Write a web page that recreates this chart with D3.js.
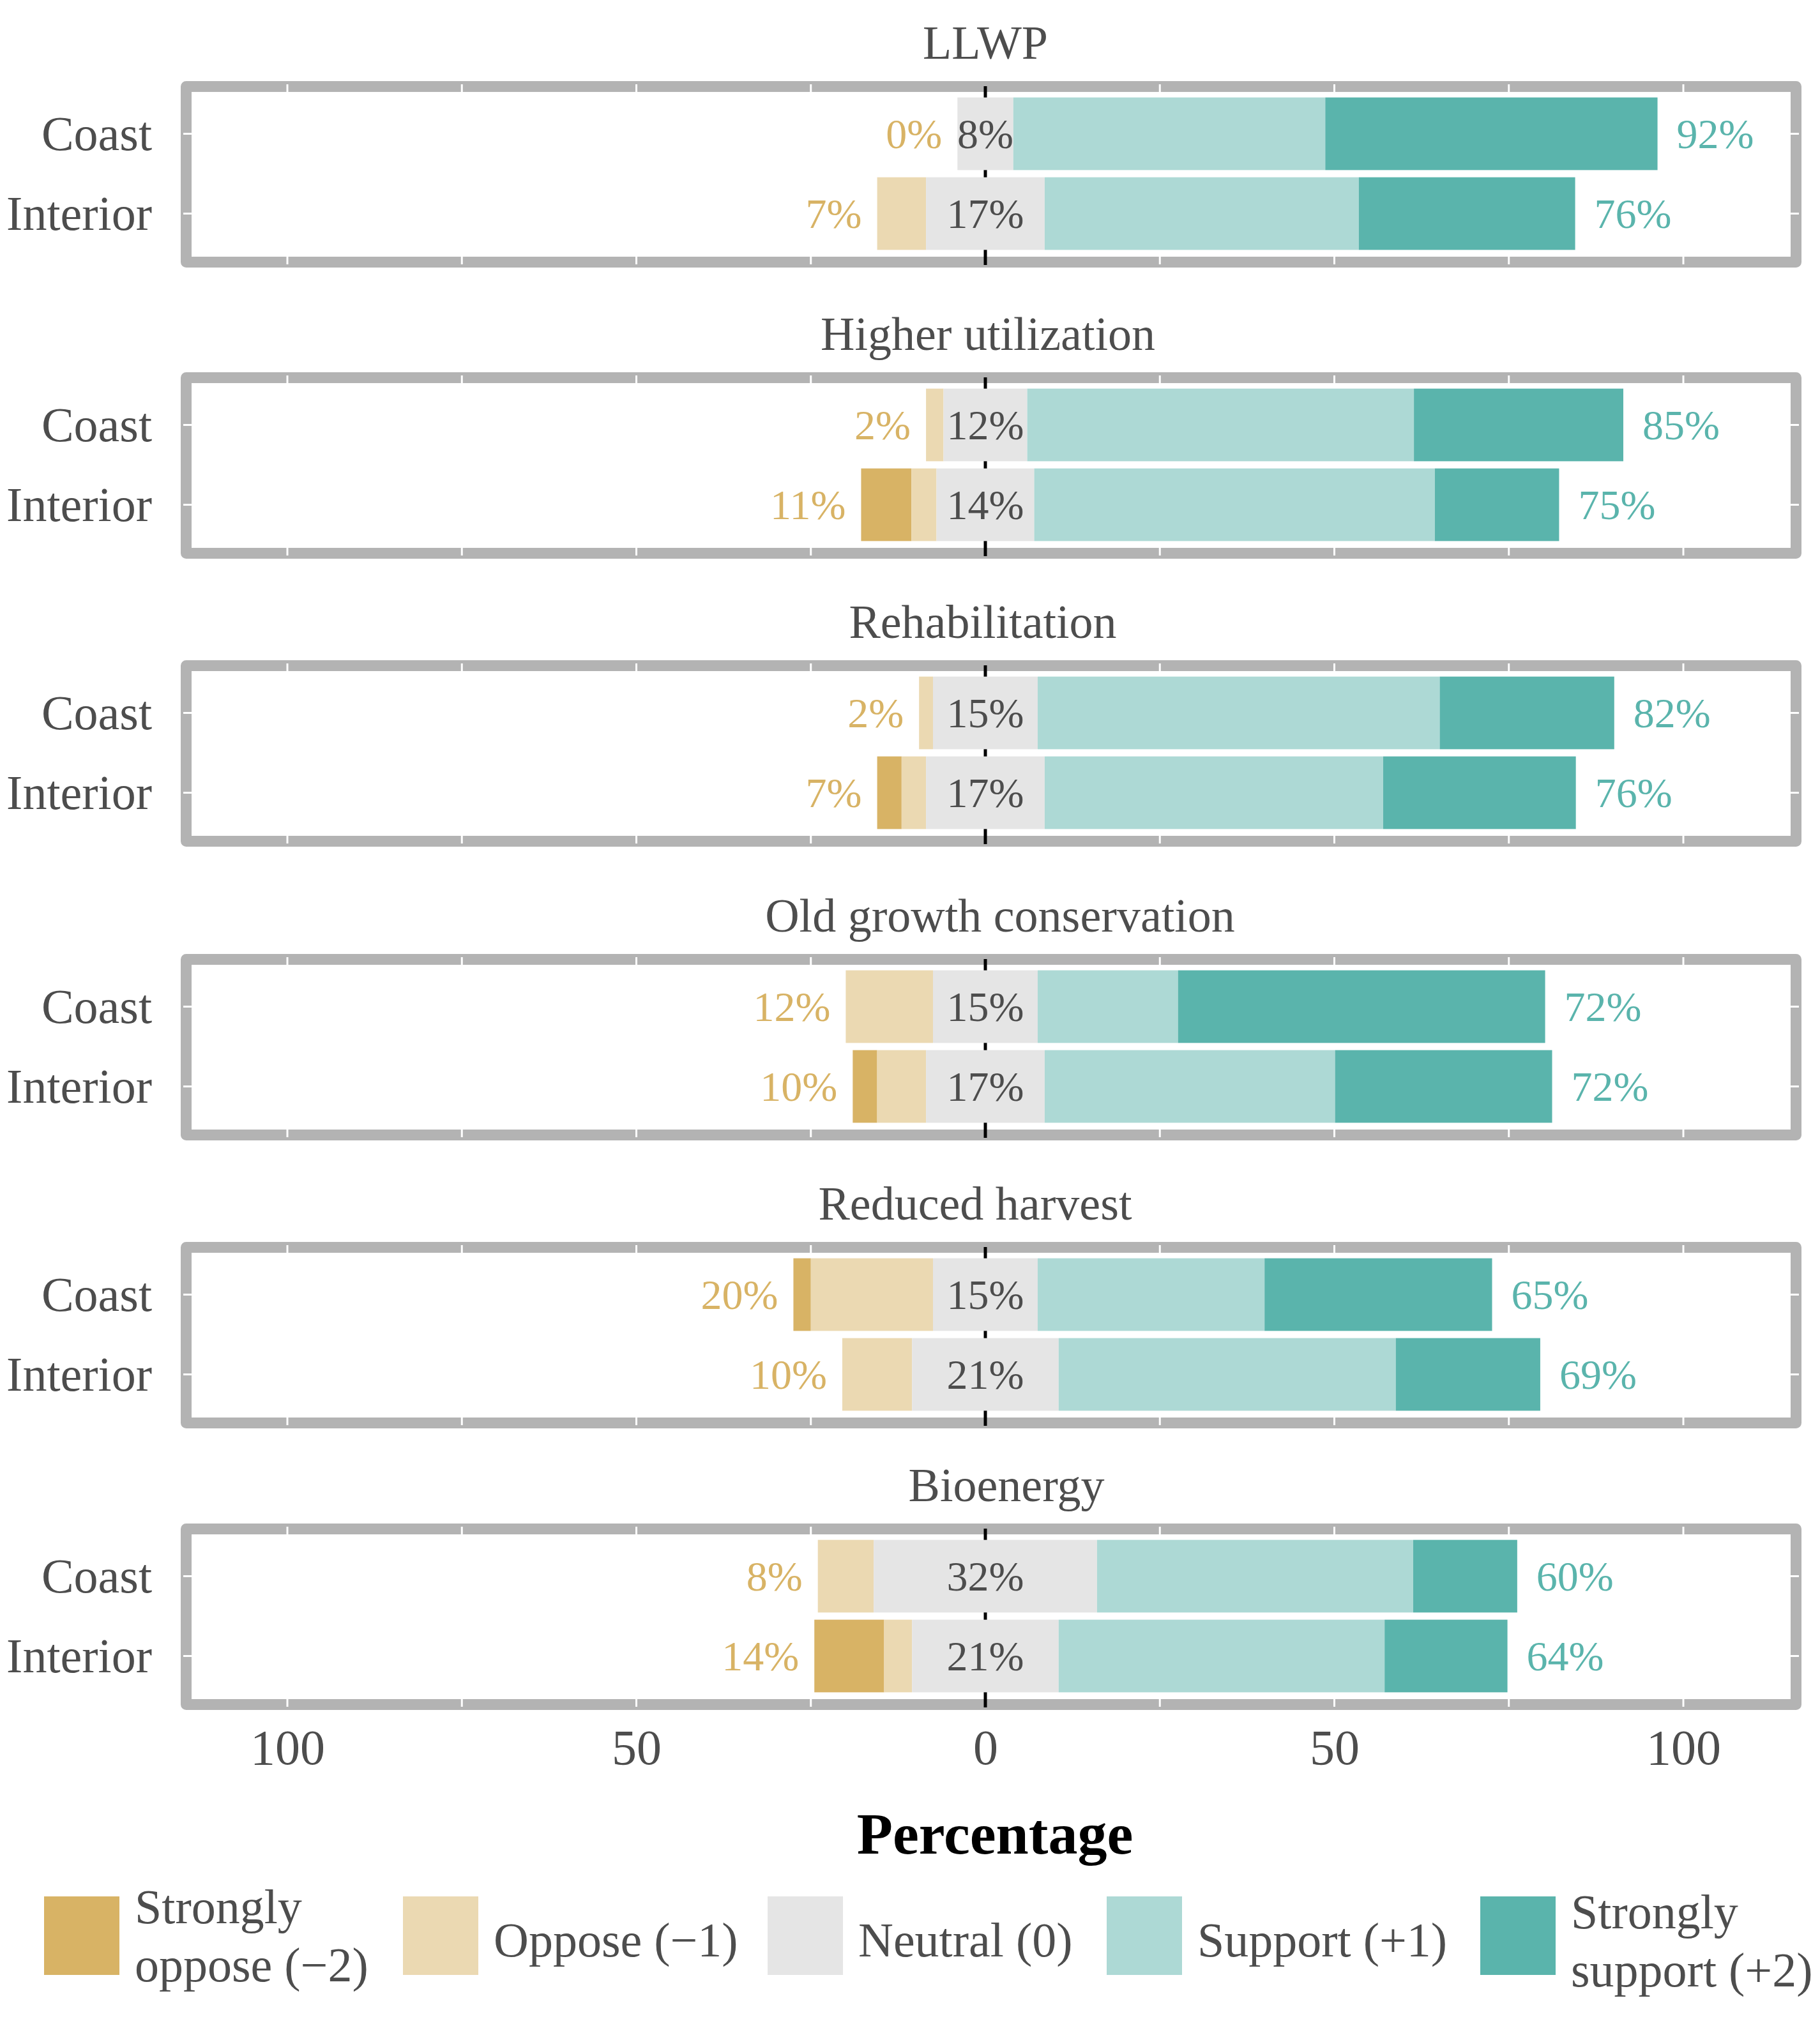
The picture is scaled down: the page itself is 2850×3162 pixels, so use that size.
<!DOCTYPE html>
<html>
<head>
<meta charset="utf-8">
<script src="https://cdn.jsdelivr.net/npm/d3@7/dist/d3.min.js"></script>
<style>
  html, body { margin: 0; padding: 0; background: #ffffff; }
  svg { display: block; }
</style>
</head>
<body>
<svg id="chart" width="2850" height="3162"></svg>
<script>
// ---------------- DATA ----------------
const topics = ["LLWP", "Higher utilization", "Rehabilitation", "Old growth conservation", "Reduced harvest", "Bioenergy"];
const regions = ["Coast", "Interior"];

// segment widths (percent), [Coast, Interior] per topic
const stronglyOppose  = [[0, 0],    [0, 7.2],   [0, 3.5],   [0, 3.5],   [2.5, 0],   [0, 10]];
const oppose          = [[0, 7],    [2.5, 3.6], [2, 3.5],   [12.5, 7],  [17.5, 10], [8, 4]];
const neutral         = [[8, 17],   [12, 14],   [15, 17],   [15, 17],   [15, 21],   [32, 21]];
const support         = [[44.7, 45],[55.4, 57.4],[57.6, 48.5],[20.1, 41.6],[32.5, 48.3],[45.3, 46.7]];
const stronglySupport = [[47.6, 31],[30, 17.8], [25, 27.6], [52.6, 31.1],[32.6, 20.7],[14.9, 17.6]];

// printed labels (percent)
const opposeLabels  = [[0, 7],   [2, 11],  [2, 7],   [12, 10], [20, 10], [8, 14]];
const neutralLabels = [[8, 17],  [12, 14], [15, 17], [15, 17], [15, 21], [32, 21]];
const supportLabels = [[92, 76], [85, 75], [82, 76], [72, 72], [65, 69], [60, 64]];

const levelNames = ["Strongly oppose (−2)", "Oppose (−1)", "Neutral (0)", "Support (+1)", "Strongly support (+2)"];
const legendLines = [["Strongly", "oppose (−2)"], ["Oppose (−1)"], ["Neutral (0)"], ["Support (+1)"], ["Strongly", "support (+2)"]];
const axisTickValues = [-100, -50, 0, 50, 100];
const minorTickValues = [-100, -75, -50, -25, 0, 25, 50, 75, 100];
const axisTitle = "Percentage";

// ---------------- STYLE / LAYOUT ----------------
const colors = ["#d8b365", "#ebd9b2", "#e5e5e5", "#add9d5", "#5ab4ac"];
const opposeText = "#d8b365", supportText = "#5ab4ac", greyText = "#4d4d4d";
const font = "'Liberation Serif', 'Times New Roman', serif";

const panelTops = [127, 583, 1034, 1494, 1945, 2386];
const titleCenters = [1543, 1547, 1539, 1566, 1527, 1576];
const panelH = 292, borderW = 17;
const panelL = 283, panelR = 2821;
const legendKeyX = [69, 631, 1202, 1733, 2318];

const svg = d3.select("#chart");
svg.append("rect").attr("width", 2850).attr("height", 3162).attr("fill", "#fff");

const x = d3.scaleLinear().domain([-100, 100]).range([450, 2636]);

const series = [stronglyOppose, oppose, neutral, support, stronglySupport];

topics.forEach((topic, ti) => {
  const T = panelTops[ti];
  const g = svg.append("g");
  const y = d3.scaleBand().domain(regions).range([T + 20, T + 270]).paddingInner(0.09).paddingOuter(0.045);

  // title
  g.append("text")
    .attr("x", titleCenters[ti]).attr("y", T - 35)
    .attr("text-anchor", "middle")
    .attr("font-family", font).attr("font-size", 74)
    .attr("fill", greyText)
    .text(topic);

  // border
  g.append("rect")
    .attr("x", panelL + borderW / 2).attr("y", T + borderW / 2)
    .attr("width", panelR - panelL - borderW).attr("height", panelH - borderW)
    .attr("fill", "none").attr("stroke", "#b3b3b3").attr("stroke-width", borderW)
    .attr("stroke-linejoin", "round");

  // white ticks inside border (top & bottom)
  minorTickValues.filter(v => v !== 0).forEach(v => {
    [[T + 5, T + borderW], [T + panelH - borderW, T + panelH - 5]].forEach(([y1, y2]) => {
      g.append("line").attr("x1", x(v)).attr("x2", x(v)).attr("y1", y1).attr("y2", y2)
        .attr("stroke", "#ffffff").attr("stroke-width", 3);
    });
  });
  // white ticks (left & right) at band centres
  regions.forEach(r => {
    const cy = y(r) + y.bandwidth() / 2;
    [[panelL + 4, panelL + borderW], [panelR - borderW, panelR - 4]].forEach(([x1, x2]) => {
      g.append("line").attr("x1", x1).attr("x2", x2).attr("y1", cy).attr("y2", cy)
        .attr("stroke", "#ffffff").attr("stroke-width", 3);
    });
  });

  // zero line
  g.append("line")
    .attr("x1", x(0)).attr("x2", x(0))
    .attr("y1", T + 8).attr("y2", T + panelH - 4)
    .attr("stroke", "#000").attr("stroke-width", 5);

  // bars
  regions.forEach((r, ri) => {
    const vals = series.map(s => s[ti][ri]);
    let start = -(vals[2] / 2 + vals[1] + vals[0]);
    const segs = vals.map((v, k) => { const s = { k, x0: start, x1: start + v }; start += v; return s; });
    g.selectAll(null).data(segs.filter(s => s.x1 > s.x0)).enter().append("rect")
      .attr("x", d => x(d.x0)).attr("width", d => x(d.x1) - x(d.x0))
      .attr("y", y(r)).attr("height", y.bandwidth())
      .attr("fill", d => colors[d.k]);

    const cy = y(r) + y.bandwidth() / 2;
    const leftEnd = -(vals[2] / 2 + vals[1] + vals[0]);
    const rightEnd = vals[2] / 2 + vals[3] + vals[4];
    const lblSize = 66;
    g.append("text").attr("x", x(Math.min(leftEnd, -vals[2] / 2)) - 24).attr("y", cy).attr("dy", "0.34em")
      .attr("text-anchor", "end").attr("font-family", font).attr("font-size", lblSize)
      .attr("fill", opposeText).text(opposeLabels[ti][ri] + "%");
    g.append("text").attr("x", x(0)).attr("y", cy).attr("dy", "0.34em")
      .attr("text-anchor", "middle").attr("font-family", font).attr("font-size", lblSize)
      .attr("fill", greyText).text(neutralLabels[ti][ri] + "%");
    g.append("text").attr("x", x(rightEnd) + 30).attr("y", cy).attr("dy", "0.34em")
      .attr("text-anchor", "start").attr("font-family", font).attr("font-size", lblSize)
      .attr("fill", supportText).text(supportLabels[ti][ri] + "%");

    // region label
    g.append("text").attr("x", 238).attr("y", cy).attr("dy", "0.34em")
      .attr("text-anchor", "end").attr("font-family", font).attr("font-size", 76)
      .attr("fill", greyText).text(r);
  });
});

// x axis
const axisG = svg.append("g").attr("transform", "translate(0,2708)")
  .call(d3.axisBottom(x).tickValues(axisTickValues).tickFormat(d => Math.abs(d)).tickSize(0).tickPadding(0));
axisG.select(".domain").remove();
axisG.selectAll("text").attr("font-family", font).attr("font-size", 78).attr("fill", greyText);

svg.append("text").attr("x", 1558).attr("y", 2903).attr("text-anchor", "middle")
  .attr("font-family", font).attr("font-size", 92).attr("font-weight", "bold").attr("fill", "#000")
  .text(axisTitle);

// legend
levelNames.forEach((name, i) => {
  const kx = legendKeyX[i];
  svg.append("rect").attr("x", kx).attr("y", 2970).attr("width", 118).attr("height", 123).attr("fill", colors[i]);
  const lines = legendLines[i];
  const t = svg.append("text").attr("font-family", font).attr("font-size", 76).attr("fill", greyText);
  if (lines.length === 1) {
    t.append("tspan").attr("x", kx + 142).attr("y", 3064).text(lines[0]);
  } else {
    const base = i === 0 ? 3012 : 3020;
    lines.forEach((ln, j) => t.append("tspan").attr("x", kx + 142).attr("y", base + j * 91).text(ln));
  }
});
</script>
</body>
</html>
